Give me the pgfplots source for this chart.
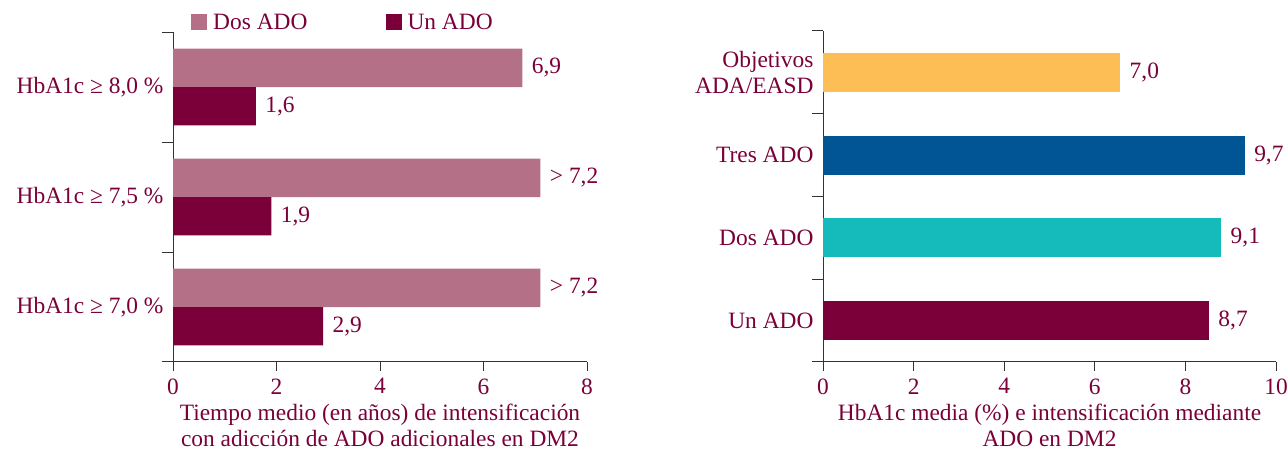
\documentclass[border=0pt]{standalone}
\usepackage{pgfplots}
\pgfplotsset{compat=1.18}
\usepackage{fontspec}
\setmainfont{Liberation Serif}
\definecolor{txt}{HTML}{7A0038}
\definecolor{dos}{HTML}{B37086}
\definecolor{un}{HTML}{7B0039}
\definecolor{obj}{HTML}{FCBE55}
\definecolor{tres}{HTML}{015594}
\definecolor{tealc}{HTML}{15BBBB}
\definecolor{axc}{HTML}{333333}
\newcommand{\ff}{\fontsize{23.5}{25.5}\selectfont}
\pgfplotsset{
  base/.style={
    scale only axis,
    axis lines=left,
    axis line style={-, draw=axc, line width=1bp},
    tick align=outside,
    font=\ff,
    /pgf/number format/assume math mode=true,
    ticklabel style={text=txt},
    xticklabel style={yshift=-4bp},
    major tick length=9bp,
    minor tick length=11bp,
    major x tick style={draw=axc, line width=1bp},
    major y tick style={draw=none},
    minor tick style={draw=axc, line width=1bp},
    xlabel style={text=txt, align=center, yshift=-3bp},
    yticklabel style={align=right, xshift=3bp},
    xbar,
    nodes near coords,
    nodes near coords align={horizontal},
    point meta=explicit symbolic,
    every node near coord/.append style={text=txt, font=\ff, anchor=west, xshift=6bp},
  }
}
\begin{document}
\begin{tikzpicture}
\path[use as bounding box] (0,0) rectangle (1287bp,449bp);
\begin{axis}[base,
  at={(173bp,87bp)}, anchor=south west,
  width=414bp, height=330bp,
  xmin=0, xmax=8, xtick={0,2,4,6,8},
  ymin=-0.5, ymax=2.5,
  ytick={0,1,2},
  yticklabels={{HbA1c ≥ 7,0 \%}, {HbA1c ≥ 7,5 \%}, {HbA1c ≥ 8,0 \%}},
  minor ytick={-0.5,0.5,1.5,2.5},
  bar width=0.35,
  xlabel={Tiempo medio (en años) de intensificación\\con adicción de ADO adicionales en DM2},
  legend columns=2,
  legend style={at={(0.0435,1.03)}, anchor=west, draw=none, fill=none, inner sep=0pt,
    text=txt, font=\ff,
    nodes={inner sep=6bp},
    /tikz/every even column/.append style={column sep=72bp}},
  legend image code/.code={\fill[#1] (0bp,-8bp) rectangle (16bp,8bp);},
]
\addplot[fill=dos, draw=none, bar shift=0.175] coordinates {(7.1,0) [> 7,2] (7.1,1) [> 7,2] (6.75,2) [6,9]};
\addplot[fill=un, draw=none, bar shift=-0.175] coordinates {(2.9,0) [2,9] (1.9,1) [1,9] (1.6,2) [1,6]};
\legend{Dos ADO, Un ADO}
\end{axis}
\begin{axis}[base,
  at={(823bp,87bp)}, anchor=south west,
  width=453bp, height=331bp,
  xmin=0, xmax=10, xtick={0,2,4,6,8,10},
  ymin=-0.5, ymax=3.5,
  ytick={0,1,2,3},
  yticklabels={Un ADO, Dos ADO, Tres ADO, {Objetivos\\ADA/EASD}},
  minor ytick={-0.5,0.5,1.5,2.5,3.5},
  bar width=0.47, bar shift=0,
  xlabel={HbA1c media (\%) e intensificación mediante\\ADO en DM2},
]
\addplot[fill=un, draw=none] coordinates {(8.52,0) [8,7]};
\addplot[fill=tealc, draw=none] coordinates {(8.79,1) [9,1]};
\addplot[fill=tres, draw=none] coordinates {(9.31,2) [9,7]};
\addplot[fill=obj, draw=none] coordinates {(6.56,3) [7,0]};
\end{axis}
\end{tikzpicture}
\end{document}
